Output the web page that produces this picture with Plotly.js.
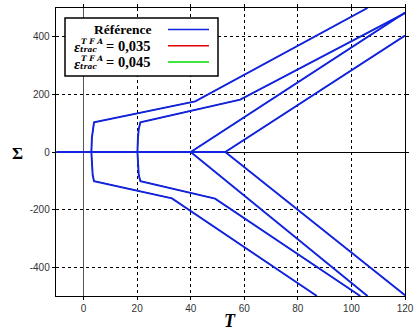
<!DOCTYPE html>
<html>
<head>
<meta charset="utf-8">
<script src="https://cdn.plot.ly/plotly-3.0.1.min.js"></script>
<style>html,body{margin:0;padding:0;background:#fff;}#chart{width:416px;height:333px;}</style>
</head>
<body>
<div id="chart"></div>
<script>
// ---- data ----
const seriesNames = ["Référence", "0,035", "0,045"];
const seriesColors = ["rgb(15,35,225)", "rgb(230,0,0)", "rgb(0,220,0)"];

// family A (starts yielding near T = 3)
const aUpT = [-10, 2.9, 3.1, 3.4, 3.9, 41.7, 106];
const aUpS = [0, 0, 50, 80, 103, 176, 500];
const aLoT = [2.9, 3.1, 3.4, 3.9, 33, 87.1];
const aLoS = [0, -50, -80, -101, -161, -500];
// family B (starts near T = 20)
const bUpT = [-10, 20.1, 20.3, 20.6, 21.2, 58.5, 120];
const bUpS = [0, 0, 50, 80, 103, 182, 482];
const bLoT = [20.1, 20.3, 20.6, 21.2, 49.1, 103.3];
const bLoS = [0, -50, -80, -101, -162, -500];
// family C (starts at T = 40)
const cUpT = [-10, 40, 120];
const cUpS = [0, 0, 484];
const cLoT = [40, 106];
const cLoS = [0, -500];
// family D (starts near T = 53)
const dUpT = [-10, 52.9, 120];
const dUpS = [0, 0, 404];
const dLoT = [52.9, 120];
const dLoS = [0, -497];

const xTicks = [0, 20, 40, 60, 80, 100, 120];
const yTicks = [-400, -200, 0, 200, 400];

// ---- build traces ----
function joinCurves(list) {
  const x = [], y = [];
  list.forEach((c, i) => {
    if (i > 0) { x.push(null); y.push(null); }
    x.push(...c[0]); y.push(...c[1]);
  });
  return {x, y};
}
const curves = joinCurves([[aUpT, aUpS], [aLoT, aLoS], [bUpT, bUpS], [bLoT, bLoS],
                           [cUpT, cUpS], [cLoT, cLoS], [dUpT, dUpS], [dLoT, dLoS]]);

const traces = [];
for (let i = seriesNames.length - 1; i >= 0; i--) {
  traces.push({
    type: "scatter", mode: "lines", name: seriesNames[i],
    x: curves.x, y: curves.y, connectgaps: false,
    line: {color: seriesColors[i], width: i === 0 ? 1.9 : 0.8},
    showlegend: false, hoverinfo: "skip"
  });
}

// ---- custom legend (text left, line sample right) ----
const P = (px) => (px - 56) / 349;
const Q = (py) => (296 - py) / 288;
const serif = "Liberation Serif";
const shapes = [
  {type: "rect", xref: "paper", yref: "paper", x0: P(65), x1: P(218), y0: Q(76), y1: Q(18),
   line: {color: "black", width: 1.5}, fillcolor: "white", layer: "above"}
];
const rowY = [29.5, 45.8, 62.1];
rowY.forEach((py, i) => {
  shapes.push({type: "line", xref: "paper", yref: "paper", x0: P(168), x1: P(209), y0: Q(py), y1: Q(py),
    line: {color: seriesColors[i], width: 1.5}, layer: "above"});
});
const annotations = [
  {xref: "paper", yref: "paper", x: P(153), y: Q(29.5), xanchor: "right", yanchor: "middle",
   text: "<b>Référence</b>", showarrow: false, font: {family: serif, size: 13.5, color: "black"}}
];
[1, 2].forEach(i => {
  const py = rowY[i];
  annotations.push(
    {xref: "paper", yref: "paper", x: P(71.5), y: Q(py + 1.5), xanchor: "left", yanchor: "middle",
     text: "<b><i>ε</i></b>", showarrow: false, font: {family: serif, size: 15, color: "black"}},
    {xref: "paper", yref: "paper", x: P(78.5), y: Q(py - 4.1), xanchor: "left", yanchor: "middle",
     text: "<b><i>T F A</i></b>", showarrow: false, font: {family: "DejaVu Serif", size: 7.5, color: "black"}},
    {xref: "paper", yref: "paper", x: P(77.5), y: Q(py + 4.1), xanchor: "left", yanchor: "middle",
     text: "<b><i>trac</i></b>", showarrow: false, font: {family: "DejaVu Serif", size: 7.5, color: "black"}},
    {xref: "paper", yref: "paper", x: P(153), y: Q(py), xanchor: "right", yanchor: "middle",
     text: "<b>= " + seriesNames[i] + "</b>", showarrow: false, font: {family: serif, size: 14.5, color: "black"}}
  );
});
// axis titles (Σ kept horizontal)
annotations.push(
  {xref: "paper", yref: "paper", x: P(17), y: Q(153), xanchor: "center", yanchor: "middle",
   text: "<b>Σ</b>", showarrow: false, font: {family: serif, size: 17, color: "black"}},
  {xref: "paper", yref: "paper", x: P(230), y: Q(321), xanchor: "center", yanchor: "middle",
   text: "<b><i>T</i></b>", showarrow: false, font: {family: serif, size: 18, color: "black"}}
);

const axisCommon = {
  showline: true, mirror: "ticks", linecolor: "black", linewidth: 1.3,
  ticks: "outside", ticklen: 3, tickcolor: "black", tickwidth: 1,
  showgrid: true, gridcolor: "black", griddash: "dot", gridwidth: 1,
  tickfont: {family: "Liberation Sans", size: 10, color: "#333"},
  fixedrange: true
};
const layout = {
  width: 416, height: 333,
  margin: {l: 56, r: 11, t: 8, b: 37},
  paper_bgcolor: "white", plot_bgcolor: "white",
  xaxis: Object.assign({}, axisCommon, {
    range: [-10.3, 120], tickvals: xTicks, ticktext: xTicks.map(String),
    zeroline: true, zerolinecolor: "#555", zerolinewidth: 1.5
  }),
  yaxis: Object.assign({}, axisCommon, {
    range: [-500, 500], tickvals: yTicks, ticktext: yTicks.map(String),
    zeroline: true, zerolinecolor: "black", zerolinewidth: 1
  }),
  shapes: shapes, annotations: annotations, showlegend: false
};
Plotly.newPlot("chart", traces, layout, {staticPlot: true, displayModeBar: false});
</script>
</body>
</html>
